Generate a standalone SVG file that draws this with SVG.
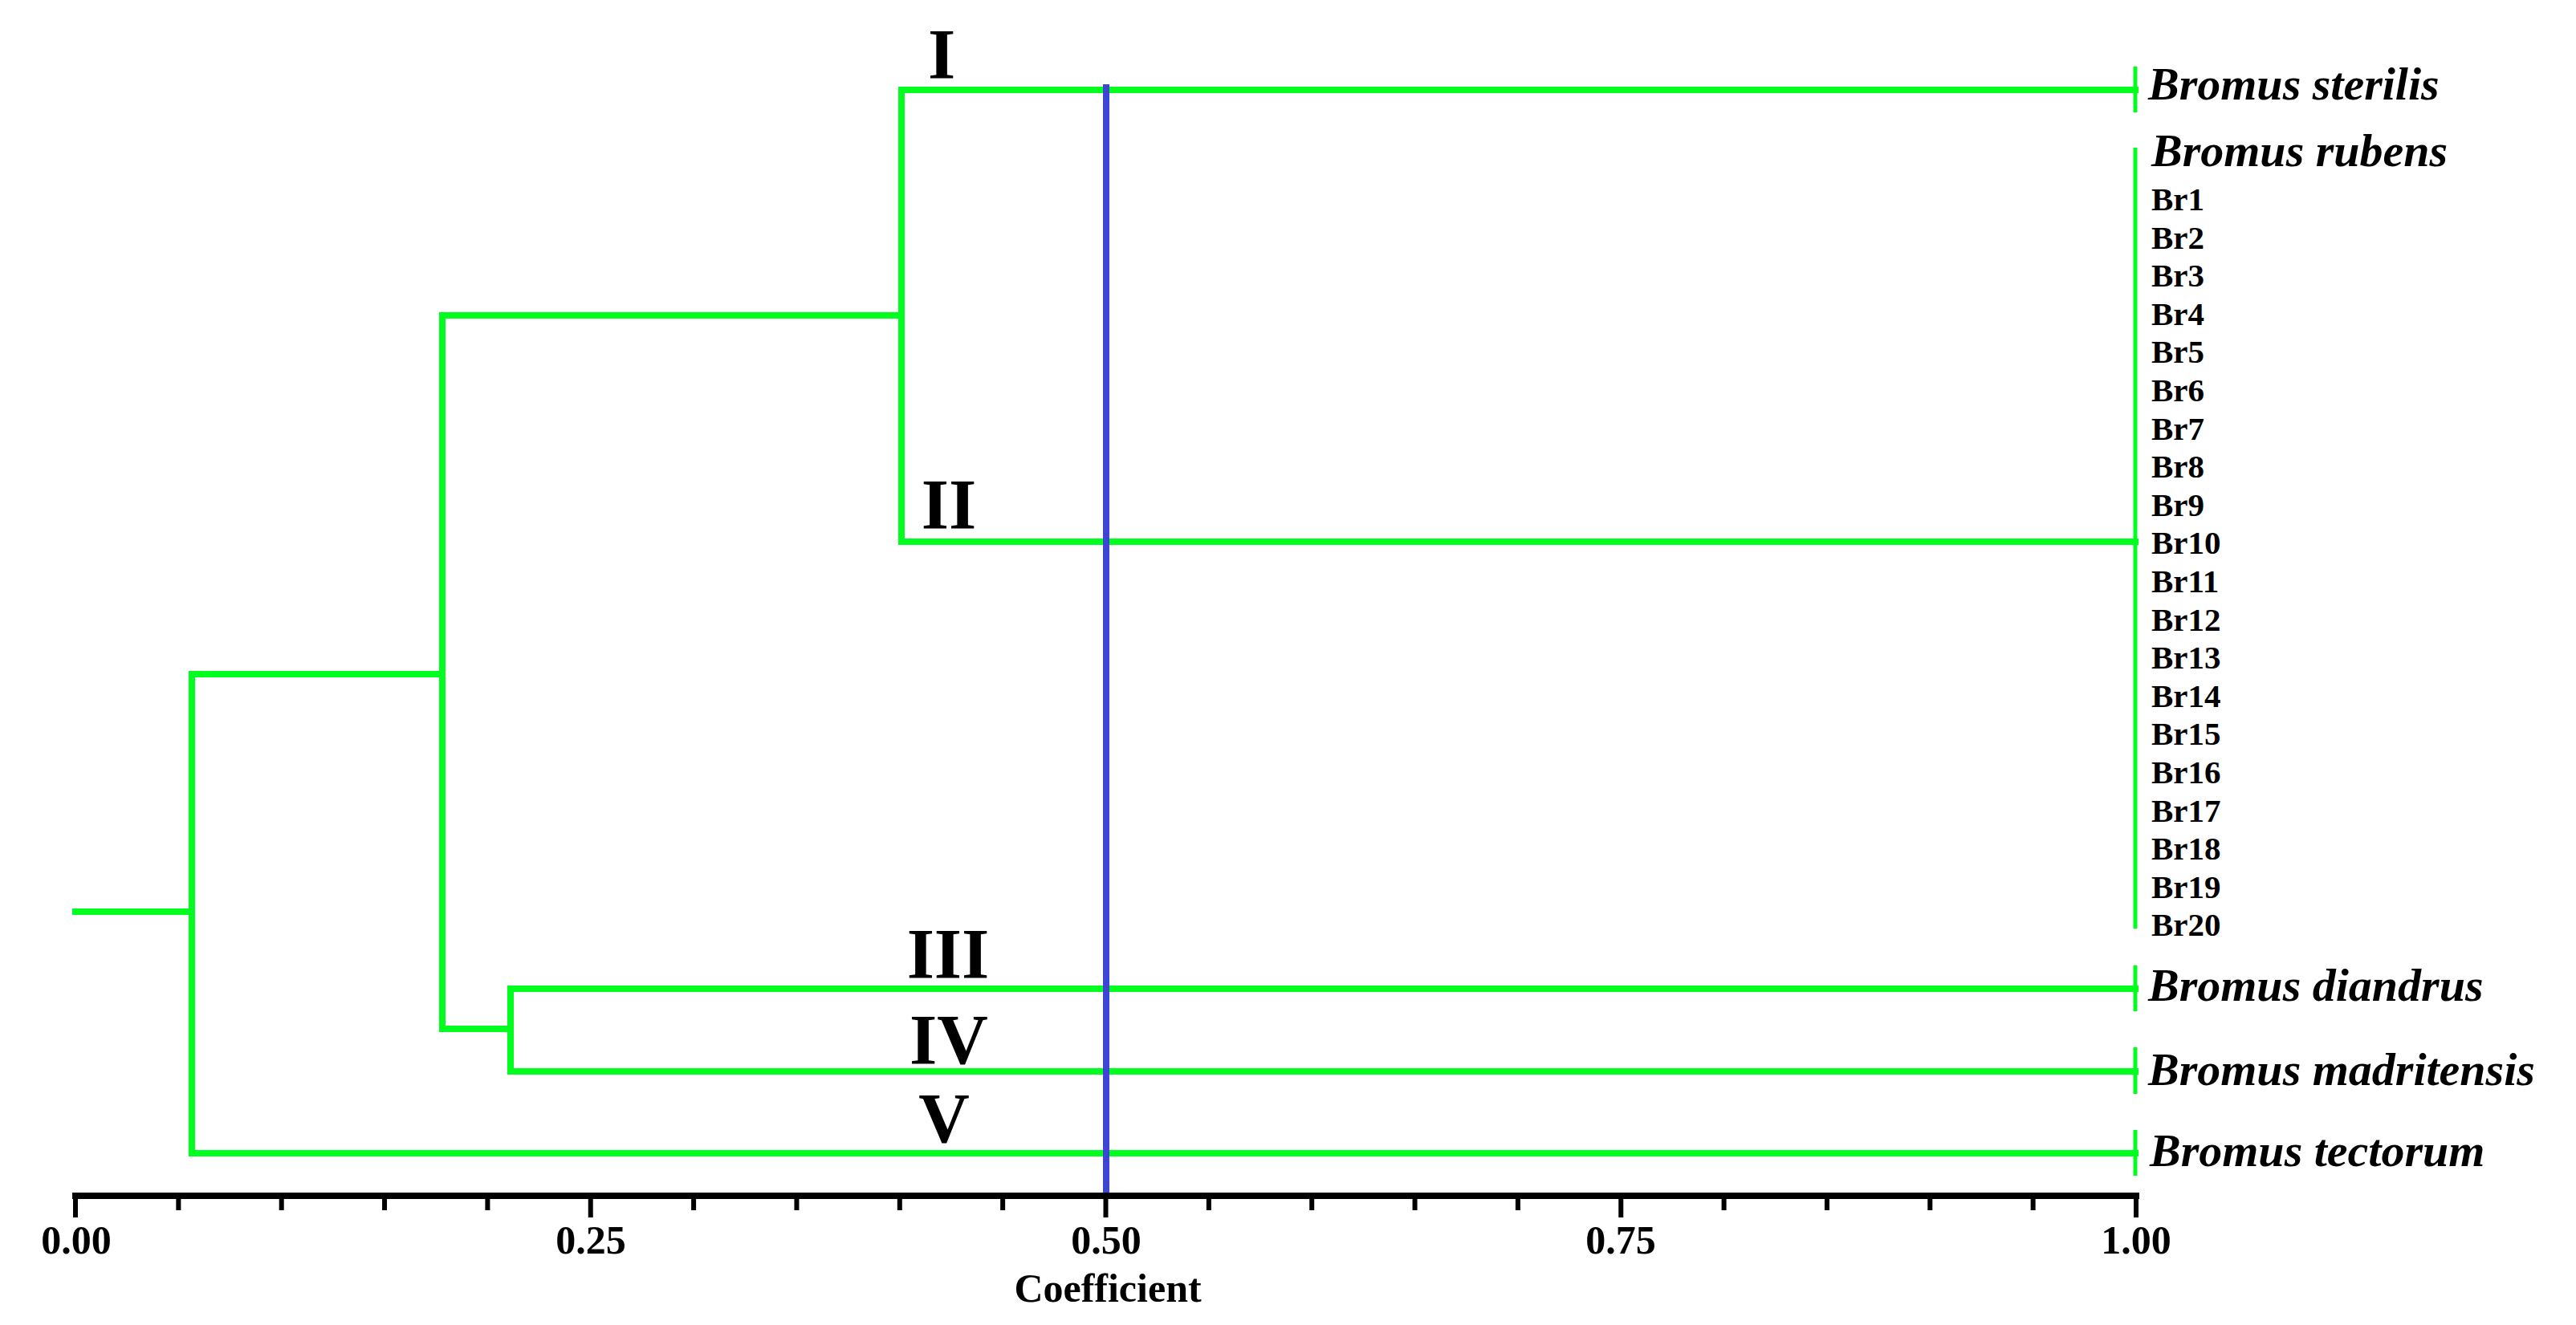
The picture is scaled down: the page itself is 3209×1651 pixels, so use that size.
<svg xmlns="http://www.w3.org/2000/svg" width="3209" height="1651" viewBox="0 0 3209 1651">
<style>
.br{stroke:#00ff1e;stroke-width:8;fill:none;stroke-linecap:square}
.bar{stroke:#00ff1e;stroke-width:5;fill:none}
.cut{stroke:#3c46d2;stroke-width:8;fill:none}
.ax{stroke:#000;stroke-width:8;fill:none}
.tk{stroke:#000;stroke-width:6;fill:none}
.sp{font-family:"Liberation Serif","Times New Roman",serif;font-style:italic;font-weight:bold;font-size:58px;fill:#000}
.acc{font-family:"Liberation Serif","Times New Roman",serif;font-weight:bold;font-size:41px;fill:#000}
.cl{font-family:"Liberation Serif","Times New Roman",serif;font-weight:bold;font-size:88px;fill:#000;text-anchor:middle}
.tl{font-family:"Liberation Serif","Times New Roman",serif;font-weight:bold;font-size:50px;fill:#000;text-anchor:middle}
</style>
<rect width="3209" height="1651" fill="#fff"/>
<g id="connectors">
<path class="br" d="M94 1136H239"/>
<path class="br" d="M239 840V1437"/>
<path class="br" d="M239 840H551"/>
<path class="br" d="M551 393V1282"/>
<path class="br" d="M551 393H1123"/>
<path class="br" d="M1123 112V675"/>
<path class="br" d="M1123 112H2660"/>
<path class="br" d="M1123 675H2660"/>
<path class="br" d="M551 1282H636"/>
<path class="br" d="M636 1232V1335"/>
<path class="br" d="M636 1232H2660"/>
<path class="br" d="M636 1335H2660"/>
<path class="br" d="M239 1437H2660"/>
</g>
<g id="cutoff"><path class="cut" d="M1378 105V1490"/></g>
<g id="axis">
<path class="ax" d="M90 1490H2665"/>
<path class="tk" d="M94 1490V1517M735.75 1490V1517M1377.5 1490V1517M2019.25 1490V1517M2661 1490V1517"/>
<path class="tk" d="M222.35 1490V1508M350.7 1490V1508M479.05 1490V1508M607.4 1490V1508M864.1 1490V1508M992.45 1490V1508M1120.8 1490V1508M1249.15 1490V1508M1505.85 1490V1508M1634.2 1490V1508M1762.55 1490V1508M1890.9 1490V1508M2147.6 1490V1508M2275.95 1490V1508M2404.3 1490V1508M2532.65 1490V1508"/>
<text class="tl" x="95" y="1562">0.00</text>
<text class="tl" x="736" y="1562">0.25</text>
<text class="tl" x="1378" y="1562">0.50</text>
<text class="tl" x="2019" y="1562">0.75</text>
<text class="tl" x="2661" y="1562">1.00</text>
<text class="tl" x="1380" y="1622">Coefficient</text>
</g>
<g id="cluster-labels">
<text class="cl" x="1173" y="97">I</text>
<text class="cl" x="1182" y="658">II</text>
<text class="cl" x="1181" y="1218">III</text>
<text class="cl" x="1182" y="1325">IV</text>
<text class="cl" x="1176" y="1423">V</text>
</g>
<g id="node-sterilis">
<path class="bar" d="M2660 83V140"/>
<text class="sp" x="2676" y="124">Bromus sterilis</text>
</g>
<g id="node-rubens">
<path class="bar" d="M2660 184V1157"/>
<text class="sp" x="2680" y="207">Bromus rubens</text>
<text class="acc" x="2680" y="262">Br1</text>
<text class="acc" x="2680" y="309.6">Br2</text>
<text class="acc" x="2680" y="357.2">Br3</text>
<text class="acc" x="2680" y="404.8">Br4</text>
<text class="acc" x="2680" y="452.4">Br5</text>
<text class="acc" x="2680" y="500">Br6</text>
<text class="acc" x="2680" y="547.6">Br7</text>
<text class="acc" x="2680" y="595.2">Br8</text>
<text class="acc" x="2680" y="642.8">Br9</text>
<text class="acc" x="2680" y="690.4">Br10</text>
<text class="acc" x="2680" y="738">Br11</text>
<text class="acc" x="2680" y="785.6">Br12</text>
<text class="acc" x="2680" y="833.2">Br13</text>
<text class="acc" x="2680" y="880.8">Br14</text>
<text class="acc" x="2680" y="928.4">Br15</text>
<text class="acc" x="2680" y="976">Br16</text>
<text class="acc" x="2680" y="1023.6">Br17</text>
<text class="acc" x="2680" y="1071.2">Br18</text>
<text class="acc" x="2680" y="1118.8">Br19</text>
<text class="acc" x="2680" y="1166.4">Br20</text>
</g>
<g id="node-diandrus">
<path class="bar" d="M2660 1203V1260"/>
<text class="sp" x="2676" y="1247">Bromus diandrus</text>
</g>
<g id="node-madritensis">
<path class="bar" d="M2660 1305V1363"/>
<text class="sp" x="2676" y="1352">Bromus madritensis</text>
</g>
<g id="node-tectorum">
<path class="bar" d="M2660 1408V1465"/>
<text class="sp" x="2678" y="1453">Bromus tectorum</text>
</g>
</svg>
